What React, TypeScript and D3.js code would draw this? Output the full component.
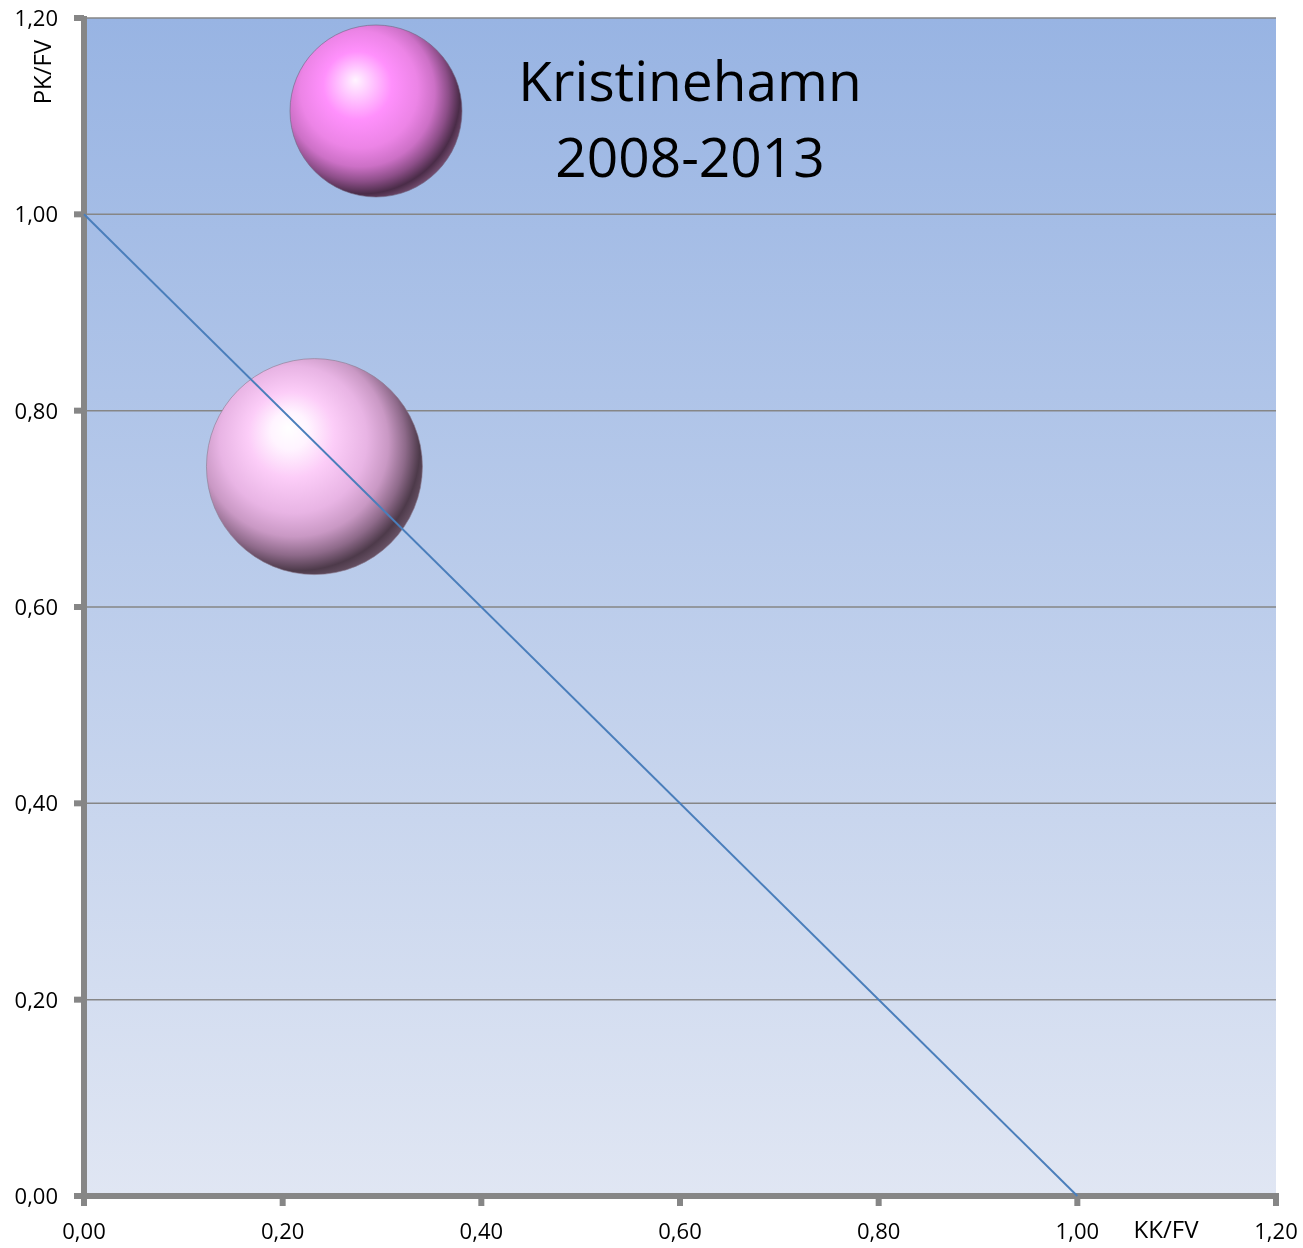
import React, { useEffect, useRef } from 'react';
import * as d3 from 'd3';

const xTicks = [0, 0.2, 0.4, 0.6, 0.8, 1.0, 1.2];
const yTicks = [0, 0.2, 0.4, 0.6, 0.8, 1.0, 1.2];
const lineX = [0, 1];
const lineY = [1, 0];
const bubbleX = [0.232];
const bubbleY = [0.743];
const titleLines = ['Kristinehamn', '2008-2013'];
const xTitle = 'KK/FV';
const yTitle = 'PK/FV';

const fmt = (v: number) => v.toFixed(2).replace('.', ',');

const App: React.FC = () => {
  const svgRef = useRef<SVGSVGElement>(null);

  useEffect(() => {
    if (!svgRef.current) return;
    d3.select(svgRef.current).selectAll('*').remove();

    const width = 1303;
    const height = 1248;
    const margin = { top: 18, right: 27, bottom: 52, left: 84 };
    const font = 'Open Sans, Noto Sans, sans-serif';

    const svg = d3.select(svgRef.current)
      .attr('width', width)
      .attr('height', height);

    const defs = svg.append('defs');

    // plot background gradient
    const bg = defs.append('linearGradient')
      .attr('id', 'bg').attr('x1', 0).attr('y1', 0).attr('x2', 0).attr('y2', 1);
    bg.append('stop').attr('offset', '0%').attr('stop-color', '#98b4e3');
    bg.append('stop').attr('offset', '100%').attr('stop-color', '#e0e6f3');

    // sphere gradients
    const sphere = (id: string, stops: [number, string][]) => {
      const g = defs.append('radialGradient')
        .attr('id', id)
        .attr('cx', '0.42').attr('cy', '0.42').attr('r', '0.62')
        .attr('fx', '0.38').attr('fy', '0.32');
      stops.forEach(([o, c]) => g.append('stop').attr('offset', `${o}%`).attr('stop-color', c));
    };
    sphere('bigSphere', [
      [0, '#ffffff'], [14, '#fff4ff'], [32, '#fccdf8'], [55, '#e8b4e4'],
      [70, '#c998c4'], [82, '#8e6a8a'], [92, '#4d3a4a'], [100, '#6d566a'],
    ]);
    sphere('smallSphere', [
      [0, '#fff4ff'], [14, '#ffc8ff'], [32, '#ff90fc'], [55, '#ec84e6'],
      [70, '#cc70c6'], [82, '#8c4e88'], [92, '#4a2c48'], [100, '#7a5276'],
    ]);

    const iw = width - margin.left - margin.right;
    const ih = height - margin.top - margin.bottom;

    const x = d3.scaleLinear().domain([0, 1.2]).range([margin.left, margin.left + iw]);
    const y = d3.scaleLinear().domain([0, 1.2]).range([margin.top + ih, margin.top]);
    const r = d3.scaleLinear().domain([0, 1]).range([0, 108]);

    svg.append('rect')
      .attr('x', x(0)).attr('y', y(1.2))
      .attr('width', x(1.2) - x(0)).attr('height', y(0) - y(1.2))
      .attr('fill', 'url(#bg)');

    // gridlines
    svg.append('g').selectAll('line')
      .data(yTicks.filter(t => t > 0))
      .enter().append('line')
      .attr('x1', x(0)).attr('x2', x(1.2))
      .attr('y1', d => y(d)).attr('y2', d => y(d))
      .attr('stroke', '#868686').attr('stroke-width', 1.5);

    // axes
    const axisColor = '#868686';
    svg.append('line')
      .attr('x1', x(0)).attr('x2', x(0))
      .attr('y1', y(1.2) - 2).attr('y2', y(0) + 3)
      .attr('stroke', axisColor).attr('stroke-width', 6);
    svg.append('line')
      .attr('x1', x(0) - 3).attr('x2', x(1.2) + 3)
      .attr('y1', y(0)).attr('y2', y(0))
      .attr('stroke', axisColor).attr('stroke-width', 6);

    svg.append('g').selectAll('line')
      .data(yTicks)
      .enter().append('line')
      .attr('x1', x(0) - 10).attr('x2', x(0))
      .attr('y1', d => y(d)).attr('y2', d => y(d))
      .attr('stroke', axisColor).attr('stroke-width', 6);
    svg.append('g').selectAll('line')
      .data(xTicks)
      .enter().append('line')
      .attr('x1', d => x(d)).attr('x2', d => x(d))
      .attr('y1', y(0)).attr('y2', y(0) + 10)
      .attr('stroke', axisColor).attr('stroke-width', 6);

    // tick labels
    svg.append('g').selectAll('text')
      .data(yTicks)
      .enter().append('text')
      .attr('x', x(0) - 26).attr('y', d => y(d) + 8)
      .attr('text-anchor', 'end')
      .style('font-family', font).style('font-size', '22px').attr('fill', '#000')
      .text(d => fmt(d));
    svg.append('g').selectAll('text')
      .data(xTicks)
      .enter().append('text')
      .attr('x', d => x(d)).attr('y', y(0) + 43)
      .attr('text-anchor', 'middle')
      .style('font-family', font).style('font-size', '22px').attr('fill', '#000')
      .text(d => fmt(d));

    // axis titles
    svg.append('text')
      .attr('x', 1166).attr('y', y(0) + 42)
      .attr('text-anchor', 'middle')
      .style('font-family', font).style('font-size', '24px')
      .text(xTitle);
    svg.append('text')
      .attr('transform', `translate(51, 72) rotate(-90)`)
      .attr('text-anchor', 'middle')
      .style('font-family', font).style('font-size', '24px')
      .text(yTitle);

    // bubbles
    svg.append('g').selectAll('circle')
      .data(bubbleX.map((v, i) => ({ x: v, y: bubbleY[i] })))
      .enter().append('circle')
      .attr('cx', d => x(d.x)).attr('cy', d => y(d.y))
      .attr('r', r(1))
      .attr('fill', 'url(#bigSphere)')
      .attr('stroke', '#8a7a8f').attr('stroke-width', 0.6);

    // diagonal line
    const line = d3.line<number>().x((d, i) => x(lineX[i])).y(d => y(d));
    svg.append('path')
      .datum(lineY)
      .attr('d', line)
      .attr('fill', 'none')
      .attr('stroke', '#4a7ebb').attr('stroke-width', 2);

    // legend sphere + title
    svg.append('circle')
      .attr('cx', 376).attr('cy', 111).attr('r', 86)
      .attr('fill', 'url(#smallSphere)')
      .attr('stroke', '#6f6480').attr('stroke-width', 0.6);

    const title = svg.append('text')
      .attr('text-anchor', 'middle')
      .style('font-family', font).style('font-size', '55px').attr('fill', '#000');
    titleLines.forEach((t, i) => {
      title.append('tspan').attr('x', 690).attr('y', 101 + i * 76).text(t);
    });
  }, []);

  return (
    <div style={{ position: 'fixed', left: 0, top: 0 }}>
      <svg ref={svgRef} style={{ display: 'block' }}></svg>
    </div>
  );
};

export default App;
